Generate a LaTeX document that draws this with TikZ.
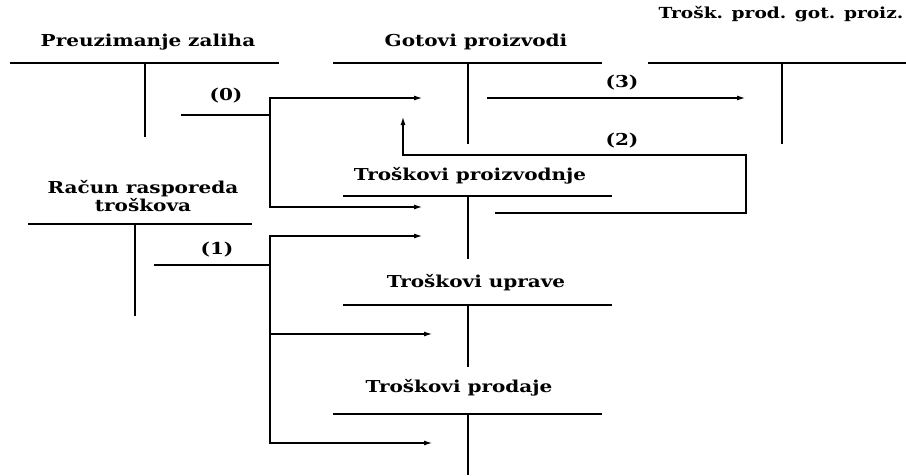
\documentclass[tikz,border=0pt]{standalone}
\usepackage{fontspec}
\setmainfont[FakeStretch=1.22]{DejaVu Serif}
\usetikzlibrary{arrows.meta}
\tikzset{
  konto/.style={font=\bfseries\fontsize{14}{16}\selectfont, inner sep=1pt},
  oznaka/.style={font=\bfseries\fontsize{14}{16}\selectfont, inner sep=1pt},
}
\begin{document}
\begin{tikzpicture}[x=0.03cm, y=-0.03cm, line width=0.9pt, >={Latex[length=2.4mm,width=1.5mm]}]
    \useasboundingbox (0,0) rectangle (906,475);
    % konta
    \node[konto] (pz) at (148,42) {Preuzimanje zaliha};
    \draw (10,63)--(279,63);
    \draw (145,63)--(145,137);
    \node[konto] (gp) at (476,42) {Gotovi proizvodi};
    \draw (333,63)--(602,63);
    \draw (468,63)--(468,144);
    \node[konto, font=\bfseries\fontsize{13}{16}\selectfont, anchor=east] (tpgp) at (905,14) {Trošk. prod. got. proiz.};
    \draw (648,63)--(906,63);
    \draw (782,63)--(782,144);
    \node[konto, align=center] (rrt) at (143,196) {Račun rasporeda\\troškova};
    \draw (28,224)--(252,224);
    \draw (135,224)--(135,316);
    \node[konto] (tpz) at (470,176) {Troškovi proizvodnje};
    \draw (343,196)--(612,196);
    \draw (468,196)--(468,259);
    \node[konto] (tu) at (476,283) {Troškovi uprave};
    \draw (343,305)--(612,305);
    \draw (468,305)--(468,367);
    \node[konto] (tpd) at (459,388) {Troškovi prodaje};
    \draw (333,414)--(602,414);
    \draw (468,414)--(468,475);
    % knjizenja
    \coordinate (z0) at (181,115);
    \coordinate (b0) at (270,115);
    \coordinate (gpd) at (422,98);
    \coordinate (tpzd) at (422,207);
    \draw (z0)--(b0);
    \draw[->] (b0) |- (gpd);
    \draw[->] (b0) |- (tpzd);
    \node[oznaka] (n0) at (226,96) {(0)};
    \coordinate (z1) at (154,265);
    \coordinate (b1) at (270,265);
    \coordinate (tpzd1) at (422,236);
    \coordinate (tud) at (432,334);
    \coordinate (tpdd) at (432,443);
    \draw (z1)--(b1);
    \draw[->] (b1) |- (tpzd1);
    \draw[->] (b1) |- (tud);
    \draw[->] (b1) |- (tpdd);
    \node[oznaka] (n1) at (217,250) {(1)};
    \coordinate (z2) at (495,213);
    \coordinate (k2) at (746,155);
    \coordinate (gpd2) at (403,117);
    \draw[->] (z2) -| (k2) -| (gpd2);
    \node[oznaka] (n2) at (622,141) {(2)};
    \coordinate (z3) at (487,98);
    \coordinate (tpgpd) at (745,98);
    \draw[->] (z3)--(tpgpd);
    \node[oznaka] (n3) at (622,83) {(3)};
\end{tikzpicture}
\end{document}
